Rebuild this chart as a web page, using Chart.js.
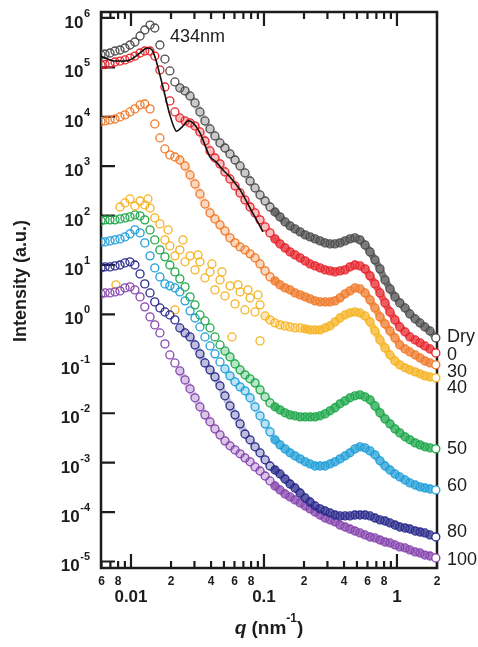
<!DOCTYPE html>
<html>
<head>
<meta charset="utf-8">
<script src="https://cdn.jsdelivr.net/npm/chart.js@4.4.1/dist/chart.umd.min.js"></script>
<style>
  html, body { margin: 0; padding: 0; background: #fff; }
  canvas { display: block; }
</style>
</head>
<body>
<canvas id="saxs" width="478" height="647"></canvas>
<script>
const qGrid = [0.00595,0.00638,0.00695,0.00758,0.00827,0.00901,0.00983,0.0107,0.0117,0.0127,
  0.0139,0.0151,0.0165,0.0180,0.0196,0.0214,0.0233,0.0255,0.0278,0.0303,
  0.0330,0.0360,0.0393,0.0428,0.0467,0.0509,0.0555,0.0606,0.0661,0.0720,
  0.0786,0.0857,0.0934,0.102,0.111,0.121,0.132,0.144,0.157,0.171,
  0.187,0.204,0.222,0.242,0.264,0.288,0.314,0.342,0.373,0.407,
  0.443,0.483,0.527,0.575,0.627,0.683,0.745,0.813,0.886,0.966,
  1.05,1.15,1.25,1.37,1.49,1.62,1.77,1.96];

const dryI = [1.78e5,1.86e5,1.95e5,2.14e5,2.24e5,2.46e5,2.83e5,3.25e5,4.30e5,5.69e5,
  7.17e5,6.24e5,2.83e5,1.47e5,8.45e4,5.06e4,3.83e4,3.33e4,2.63e4,1.90e4,
  1.25e4,8.22e3,5.66e3,4.09e3,2.95e3,2.33e3,1.77e3,1.33e3,1.01e3,729,
  501,362,261,197,149,118,94.0,74.5,61.9,53.7,
  46.7,40.6,37.0,33.7,30.7,28.0,26.7,26.7,28.0,30.7,
  33.7,35.3,32.2,25.5,18.4,12.7,8.35,4.99,3.28,2.26,
  1.71,1.35,1.02,0.810,0.671,0.558,0.463,0.334];

const rh0I = [1.11e5,1.14e5,1.19e5,1.28e5,1.34e5,1.41e5,1.54e5,1.69e5,1.95e5,2.14e5,
  2.14e5,1.69e5,8.86e4,4.00e4,2.09e4,1.25e4,9.45e3,8.22e3,7.50e3,6.52e3,
  4.92e3,3.23e3,2.03e3,1.46e3,1.11e3,763,550,397,287,207,
  149,113,81.8,59.0,44.6,33.7,26.7,22.2,18.4,16.0,
  13.9,12.1,10.5,9.59,8.73,7.95,7.59,7.24,7.59,7.95,
  9.15,10.0,9.59,8.35,6.02,4.14,2.72,1.71,1.12,0.774,
  0.558,0.442,0.350,0.304,0.265,0.230,0.200,0.166];

const rh30I = [8.03e3,8.22e3,8.60e3,9.00e3,9.91e3,1.09e4,1.25e4,1.44e4,1.73e4,1.81e4,
  1.44e4,7.14e3,3.72e3,2.23e3,1.69e3,1.53e3,1.33e3,1.01e3,663,436,
  274,172,113,85.6,64.8,49.0,35.3,28.0,23.2,20.2,
  16.8,13.9,10.5,7.59,5.74,4.76,3.95,3.44,3.13,2.72,
  2.48,2.26,2.06,1.88,1.79,1.79,1.79,1.88,2.16,2.60,
  2.99,3.44,3.28,2.72,1.97,1.35,0.890,0.642,0.463,0.334,
  0.241,0.200,0.174,0.151,0.132,0.114,0.104,0.0953];

const rh40I = [null,null,null,null,149,180,217,156,197,164,
  142,89.7,67.8,32.2,24.3,15.3,20.2,11.6,15.3,7.95,
  11.6,5.47,7.24,3.13,4.99,2.37,3.78,1.63,2.85,1.23,
  2.16,1.12,1.56,0.930,0.774,0.671,0.613,0.585,0.558,0.532,
  0.532,0.509,0.485,0.485,0.485,0.532,0.585,0.705,0.845,0.974,
  1.07,1.12,1.07,0.930,0.705,0.463,0.304,0.210,0.151,0.114,
  0.0953,0.0830,0.0755,0.0688,0.0627,0.0571,0.0545,0.0520];

// scattered 40% points lying off the main band
const rh40StrayQ = [0.00771,0.0134,0.0190,0.0214,0.0246,0.0319,0.0406,0.0483,0.0575,0.0638,0.0758,0.0902,0.0934];
const rh40StrayI = [3.95,217,51.3,1.23,32.2,16.0,10.5,7.24,0.350,3.95,3.13,2.48,0.291];

const rh50I = [78.0,81.8,81.8,81.8,85.6,89.7,94.0,103,98.5,81.8,
  51.3,32.2,20.2,14.6,10.0,7.24,5.24,3.60,2.26,1.56,
  0.974,0.738,0.532,0.350,0.241,0.182,0.138,0.0995,0.0755,0.0599,
  0.0497,0.0412,0.0297,0.0215,0.0162,0.0135,0.0117,0.0102,0.00927,0.00886,
  0.00845,0.00845,0.00845,0.00845,0.00886,0.00970,0.0112,0.0129,0.0155,0.0178,
  0.0205,0.0225,0.0236,0.0215,0.0187,0.0141,0.0102,0.00769,0.00610,0.00483,
  0.00400,0.00333,0.00290,0.00251,0.00229,0.00209,0.00199,0.00190];

const rh60I = [29.3,29.3,30.7,32.2,33.7,37.0,42.6,51.3,44.6,28.0,
  15.3,8.73,5.74,4.14,3.78,3.44,2.85,1.88,1.18,0.845,
  0.558,0.350,0.230,0.159,0.109,0.0792,0.0571,0.0432,0.0342,0.0284,
  0.0205,0.0135,0.00886,0.00610,0.00420,0.00290,0.00229,0.00190,0.00158,0.00137,
  0.00119,0.00104,0.000940,0.000856,0.000856,0.000856,0.000940,0.00104,0.00119,0.00137,
  0.00158,0.00190,0.00209,0.00199,0.00173,0.00144,0.00109,0.000856,0.000710,0.000590,
  0.000513,0.000446,0.000388,0.000353,0.000322,0.000307,0.000293,0.000280];

const rh80I = [8.73,9.15,9.15,9.59,10.0,11.0,11.6,10.0,6.60,4.14,
  2.72,1.79,1.35,1.12,0.974,0.774,0.532,0.421,0.350,0.241,
  0.159,0.104,0.0755,0.0545,0.0359,0.0225,0.0141,0.00927,0.00610,0.00380,
  0.00290,0.00209,0.00158,0.00114,0.000856,0.000710,0.000590,0.000467,0.000370,0.000307,
  0.000243,0.000193,0.000160,0.000133,0.000116,0.000105,9.59e-5,8.73e-5,8.35e-5,8.35e-5,
  8.35e-5,8.73e-5,8.73e-5,8.73e-5,8.35e-5,7.59e-5,6.92e-5,6.60e-5,6.02e-5,5.47e-5,
  4.99e-5,4.76e-5,4.54e-5,4.14e-5,3.95e-5,3.78e-5,3.44e-5,3.13e-5];

const rh100I = [2.60,2.72,2.72,2.85,2.99,3.44,3.60,3.13,2.26,1.42,
  0.890,0.613,0.421,0.253,0.151,0.104,0.0720,0.0473,0.0312,0.0205,
  0.0135,0.00927,0.00670,0.00483,0.00365,0.00276,0.00219,0.00181,0.00151,0.00125,
  0.00104,0.000818,0.000678,0.000537,0.000426,0.000337,0.000280,0.000232,0.000202,0.000176,
  0.000153,0.000133,0.000116,0.000100,8.73e-5,7.59e-5,6.92e-5,6.31e-5,5.47e-5,4.99e-5,
  4.54e-5,4.14e-5,3.78e-5,3.44e-5,3.13e-5,2.99e-5,2.72e-5,2.48e-5,2.37e-5,2.16e-5,
  1.97e-5,1.88e-5,1.71e-5,1.56e-5,1.49e-5,1.35e-5,1.29e-5,1.18e-5];

// model curve drawn over the 0 % data
const fitQ = [0.00595,0.00638,0.00695,0.00758,0.00827,0.00901,0.00983,0.0107,0.0117,0.0127,
  0.0134,0.0144,0.0154,0.0165,0.0180,0.0196,0.0218,0.0238,0.0268,0.0298,
  0.0330,0.0360,0.0393,0.0436,0.0492,0.0555,0.0661,0.0786,0.0983];
const fitI = [1.69e5,1.54e5,1.41e5,1.34e5,1.34e5,1.34e5,1.41e5,1.62e5,1.95e5,2.35e5,
  2.46e5,2.24e5,1.41e5,7.0e4,2.76e4,1.09e4,5.16e3,5.93e3,8.22e3,7.14e3,
  4.69e3,2.68e3,1.53e3,1.22e3,837,605,330,142,46.7];

const seriesNames = ['Dry','0','30','40','50','60','80','100'];
const seriesColors = ['#4d4d4d','#e6262c','#f07a2a','#f6b321','#1fa84b','#229fd8','#2a2b8c','#8646ae'];
const seriesValues = [dryI, rh0I, rh30I, rh40I, rh50I, rh60I, rh80I, rh100I];
// intensity at which each name sits beside the right axis
const nameLevels = [0.348,0.151,0.0682,0.0324,1.89e-3,3.37e-4,3.95e-5,1.07e-5];

// where the measured points crowd into a continuous band (q, nm^-1)
const crowdFrom = [0.022,0.022,0.022,0.1,0.05,0.05,0.022,0.022];
const solidFrom = [0.12,0.12,0.12,0.2,0.12,0.12,0.12,0.12];

const yDecades = [-5,-4,-3,-2,-1,0,1,2,3,4,5,6];
const xMajor = [0.01,0.1,1];
const xMajorText = ['0.01','0.1','1'];
const xMinor = [0.006,0.007,0.008,0.009,0.02,0.03,0.04,0.05,0.06,0.07,0.08,0.09,
  0.2,0.3,0.4,0.5,0.6,0.7,0.8,0.9,2];
const xMinorLabeled = [0.006,0.008,0.02,0.04,0.06,0.08,0.2,0.4,0.6,0.8,2];
const xMinorText = ['6','8','2','4','6','8','2','4','6','8','2'];

const FONT = "'Liberation Sans', Arial, sans-serif";

function withAlpha(hex, a) {
  const n = parseInt(hex.slice(1), 16);
  return 'rgba(' + (n >> 16) + ',' + ((n >> 8) & 255) + ',' + (n & 255) + ',' + a + ')';
}

function circles(label, qs, vals, color, k) {
  const pts = qs.map((q, i) => ({x: q, y: vals[i]})).filter(p => p.y !== null);
  const banded = k !== null;
  return {
    label: label,
    data: pts,
    showLine: banded,
    borderWidth: 7,
    borderCapStyle: 'round',
    borderJoinStyle: 'round',
    segment: banded ? {
      borderColor: s => {
        const q = s.p0.parsed.x;
        if (q >= solidFrom[k]) return withAlpha(color, 0.75);
        if (q >= crowdFrom[k]) return withAlpha(color, 0.3);
        return 'rgba(0,0,0,0)';
      }
    } : undefined,
    borderColor: color,
    pointBorderColor: color,
    pointBackgroundColor: pts.map((p, i) => (banded && i === pts.length - 1) ? '#fff' : 'rgba(255,255,255,0)'),
    pointRadius: 4,
    pointBorderWidth: 1.3,
    pointHoverRadius: 4,
    clip: {left: 0, top: 0, right: 6, bottom: 0}
  };
}

const datasets = [];
datasets.push({
  label: 'fit',
  data: fitQ.map((q, i) => ({x: q, y: fitI[i]})),
  showLine: true,
  borderColor: '#111',
  borderWidth: 1.6,
  pointRadius: 0,
  tension: 0.3
});
seriesNames.forEach((n, k) => {
  datasets.push(circles(n, qGrid, seriesValues[k], seriesColors[k], k));
});
datasets.push(circles('40 stray', rh40StrayQ, rh40StrayI, seriesColors[3], null));

function drawExp(ctx, base, exp, xRight, yBase, big, small, rise) {
  ctx.font = 'bold ' + small + 'px ' + FONT;
  const we = ctx.measureText(exp).width;
  ctx.textAlign = 'left';
  ctx.fillText(exp, xRight - we, yBase - rise);
  ctx.font = 'bold ' + big + 'px ' + FONT;
  ctx.textAlign = 'right';
  ctx.fillText(base, xRight - we - 0.5, yBase);
}

const axesPlugin = {
  id: 'axesPlugin',
  beforeDatasetsDraw(chart) {
    const {ctx, chartArea: a} = chart;
    const x = chart.scales.x, y = chart.scales.y;
    ctx.save();
    ctx.strokeStyle = '#1c1c1c';
    ctx.lineWidth = 2.5;
    ctx.strokeRect(a.left, a.top, a.right - a.left, a.bottom - a.top);
    ctx.lineWidth = 2.2;
    ctx.beginPath();
    yDecades.forEach(e => {
      const py = y.getPixelForValue(Math.pow(10, e));
      ctx.moveTo(a.left, py); ctx.lineTo(a.left + 14, py);
    });
    xMajor.forEach(v => {
      const px = x.getPixelForValue(v);
      ctx.moveTo(px, a.bottom); ctx.lineTo(px, a.bottom - 14);
      ctx.moveTo(px, a.top); ctx.lineTo(px, a.top + 14);
    });
    xMinor.forEach(v => {
      const px = x.getPixelForValue(v);
      ctx.moveTo(px, a.bottom); ctx.lineTo(px, a.bottom - 7);
      ctx.moveTo(px, a.top); ctx.lineTo(px, a.top + 7);
    });
    ctx.stroke();
    ctx.restore();
  },
  afterDraw(chart) {
    const {ctx, chartArea: a} = chart;
    const x = chart.scales.x, y = chart.scales.y;
    ctx.save();
    ctx.fillStyle = '#1c1c1c';
    ctx.textBaseline = 'alphabetic';

    // y tick labels 10^n
    yDecades.forEach(e => {
      const py = y.getPixelForValue(Math.pow(10, e));
      drawExp(ctx, '10', String(e), 90, py + 10, 17, 11, 11);
    });

    // x tick labels
    ctx.textAlign = 'center';
    ctx.font = 'bold 12px ' + FONT;
    xMinorLabeled.forEach((v, i) => {
      ctx.fillText(xMinorText[i], x.getPixelForValue(v), a.bottom + 17);
    });
    ctx.font = 'bold 17px ' + FONT;
    xMajor.forEach((v, i) => {
      ctx.fillText(xMajorText[i], x.getPixelForValue(v), a.bottom + 34);
    });

    // x title: q (nm^-1)
    const tb = 634;
    ctx.font = 'italic bold 19px ' + FONT;
    const wq = ctx.measureText('q').width;
    ctx.font = 'bold 19px ' + FONT;
    const wa = ctx.measureText(' (nm').width;
    const wc = ctx.measureText(')').width;
    ctx.font = 'bold 12px ' + FONT;
    const ws = ctx.measureText('-1').width;
    let cx = (a.left + a.right) / 2 - (wq + wa + ws + wc) / 2;
    ctx.textAlign = 'left';
    ctx.font = 'italic bold 19px ' + FONT;
    ctx.fillText('q', cx, tb); cx += wq;
    ctx.font = 'bold 19px ' + FONT;
    ctx.fillText(' (nm', cx, tb); cx += wa;
    ctx.font = 'bold 12px ' + FONT;
    ctx.fillText('-1', cx, tb - 12); cx += ws;
    ctx.font = 'bold 19px ' + FONT;
    ctx.fillText(')', cx, tb);

    // y title
    ctx.save();
    ctx.translate(26, 281);
    ctx.rotate(-Math.PI / 2);
    ctx.textAlign = 'center';
    ctx.font = 'bold 18px ' + FONT;
    ctx.fillText('Intensity (a.u.)', 0, 0);
    ctx.restore();

    // film thickness note
    ctx.textAlign = 'left';
    ctx.font = '18px ' + FONT;
    ctx.fillText('434nm', 170, 42);

    // humidity names on the right
    ctx.textBaseline = 'middle';
    ctx.font = '18px ' + FONT;
    seriesNames.forEach((n, i) => {
      ctx.fillText(n, a.right + 10, y.getPixelForValue(nameLevels[i]));
    });
    ctx.restore();
  }
};

new Chart(document.getElementById('saxs'), {
  type: 'scatter',
  data: {datasets: datasets},
  options: {
    responsive: false,
    animation: false,
    devicePixelRatio: 1,
    layout: {padding: {left: 101, right: 41, top: 12, bottom: 79}},
    plugins: {legend: {display: false}, tooltip: {enabled: false}},
    scales: {
      x: {type: 'logarithmic', min: 0.00595, max: 2.0, display: false},
      y: {type: 'logarithmic', min: 7.38e-6, max: 1.316e6, display: false}
    }
  },
  plugins: [axesPlugin]
});
</script>
</body>
</html>
